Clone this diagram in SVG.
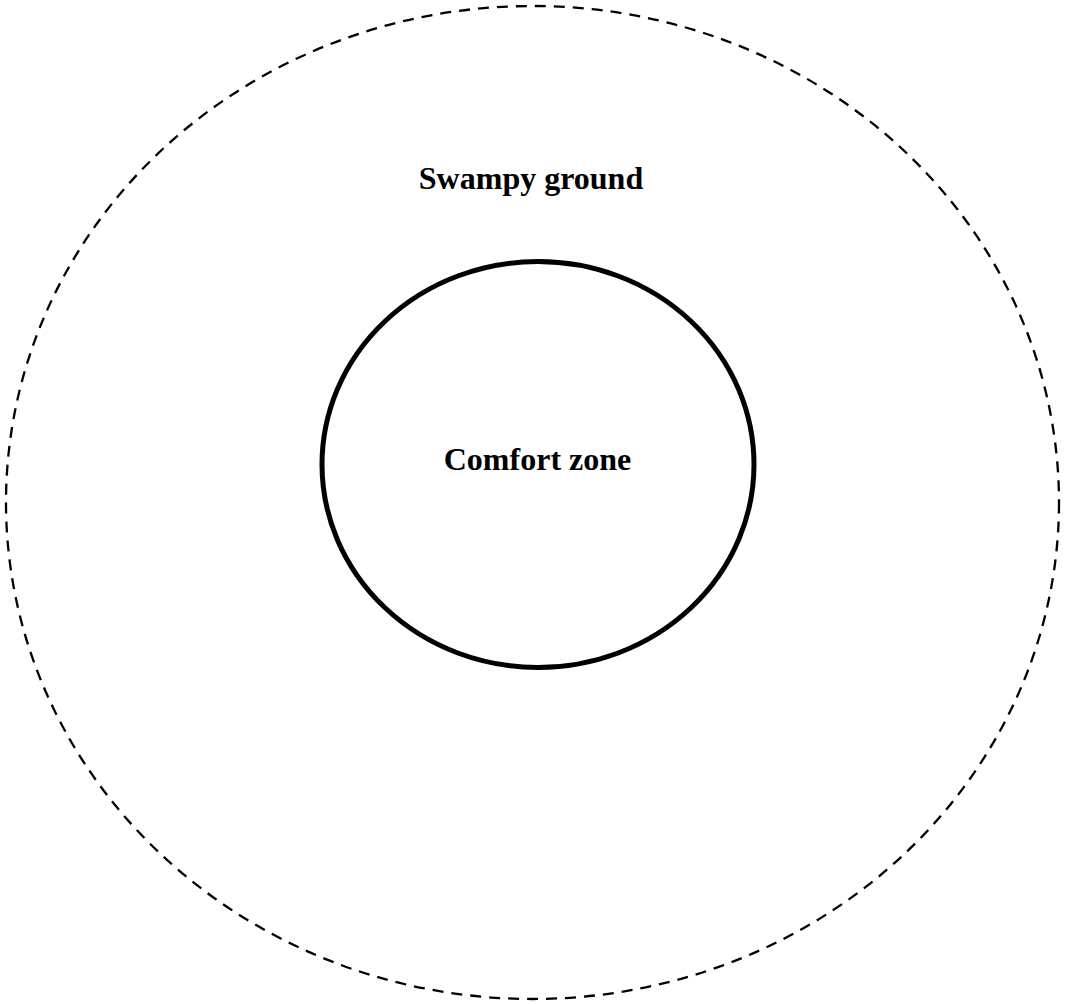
<svg xmlns="http://www.w3.org/2000/svg" width="1065" height="1004" viewBox="0 0 1065 1004">
<style>
.lbl{font-family:"Liberation Serif","Times New Roman",serif;font-weight:bold;font-size:32px;fill:#000;text-anchor:middle}
</style>
<rect width="1065" height="1004" fill="#fff"/>
<g id="swampy-ground">
<ellipse cx="532.5" cy="502.5" rx="526.5" ry="496.5" fill="none" stroke="#000" stroke-width="2.3" stroke-dasharray="11 8"/>
<text class="lbl" x="531" y="189">Swampy ground</text>
</g>
<g id="comfort-zone">
<ellipse cx="538" cy="464.5" rx="216" ry="203" fill="none" stroke="#000" stroke-width="5"/>
<text class="lbl" x="537.5" y="470">Comfort zone</text>
</g>
<g id="connectors"/>
</svg>
